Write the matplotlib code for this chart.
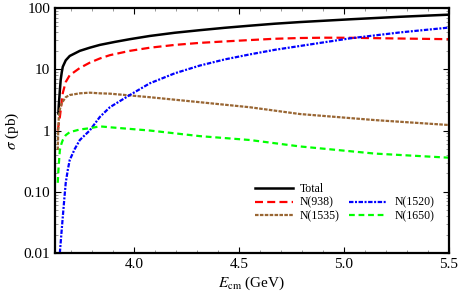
import matplotlib
matplotlib.use("Agg")
import matplotlib.pyplot as plt
from matplotlib.lines import Line2D
from matplotlib.ticker import FixedLocator, FixedFormatter, LogLocator, MultipleLocator

plt.rcParams["font.family"] = "Liberation Serif"
plt.rcParams["mathtext.fontset"] = "stix"

#
# Datos (E en GeV, sigma en pb)
#
e_total = [3.641, 3.643, 3.648, 3.652, 3.657, 3.662, 3.676, 3.695, 3.743, 3.790, 3.838,
           3.910, 3.981, 4.076, 4.195, 4.314, 4.433, 4.552, 4.671, 4.790, 5.029, 5.267, 5.500]
s_total = [1.9, 2.6, 4.5, 6.7, 8.9, 11.0, 14.0, 16.5, 20.0, 22.5, 25.0,
           28.0, 31.0, 35.0, 39.5, 43.5, 47.6, 51.5, 55.5, 59.0, 65.5, 72.0, 78.0]

e_n938 = [3.638, 3.643, 3.648, 3.655, 3.662, 3.676, 3.695, 3.743, 3.790, 3.838, 3.886,
          3.981, 4.076, 4.195, 4.314, 4.433, 4.552, 4.671, 4.790, 4.910, 5.029, 5.267, 5.500]
s_n938 = [1.0, 1.3, 1.66, 2.6, 4.1, 6.2, 8.0, 10.5, 12.8, 15.0, 17.0,
          20.0, 22.5, 25.0, 27.0, 28.5, 30.0, 31.5, 32.4, 32.8, 32.7, 31.8, 31.0]

e_n1520 = [3.648, 3.655, 3.662, 3.669, 3.676, 3.686, 3.695, 3.719, 3.743, 3.790, 3.838,
           3.886, 3.981, 4.076, 4.195, 4.314, 4.433, 4.552, 4.671, 4.790, 5.029, 5.267, 5.500]
s_n1520 = [0.010, 0.020, 0.039, 0.075, 0.14, 0.23, 0.33, 0.50, 0.70, 1.0, 1.66,
           2.4, 3.8, 5.9, 8.6, 11.5, 14.5, 17.5, 20.8, 24.0, 32.0, 40.0, 48.0]

e_n1535 = [3.638, 3.640, 3.643, 3.648, 3.657, 3.676, 3.695, 3.743, 3.790, 3.838, 3.886,
           4.076, 4.314, 4.552, 4.790, 5.148, 5.500]
s_n1535 = [0.48, 0.9, 1.66, 2.2, 2.8, 3.5, 3.8, 4.05, 4.15, 4.05, 4.0,
           3.5, 2.9, 2.4, 1.86, 1.48, 1.23]

e_n1650 = [3.638, 3.641, 3.645, 3.648, 3.655, 3.662, 3.676, 3.695, 3.743, 3.790, 3.838,
           3.886, 4.076, 4.314, 4.552, 4.790, 5.148, 5.500]
s_n1650 = [0.14, 0.22, 0.35, 0.48, 0.60, 0.70, 0.84, 0.94, 1.04, 1.09, 1.17,
           1.13, 1.0, 0.81, 0.70, 0.55, 0.42, 0.36]

y_ticks = [0.01, 0.1, 1, 10, 100]
y_labels = ["0.01", "0.10", "1", "10", "100"]

#
# Figura
#
fig = plt.figure(figsize=(4.6, 2.98), dpi=100)
ax = fig.add_axes([0.1196, 0.151, 0.8565, 0.822])

ax.plot(e_total, s_total, color="black", lw=1.8, label="Total")
ax.plot(e_n938, s_n938, color="#FF0000", lw=1.6, dashes=(3.6, 1.9), label="N(938)")
ax.plot(e_n1535, s_n1535, color="#996633", lw=1.6, dashes=(1.6, 0.6), label="N(1535)")
ax.plot(e_n1520, s_n1520, color="#0000FF", lw=1.6, dashes=(2.0, 0.7, 0.9, 0.7), label="N(1520)")
ax.plot(e_n1650, s_n1650, color="#00FF00", lw=1.6, dashes=(2.6, 1.7), label="N(1650)")

ax.set_yscale("log")
ax.set_xlim(3.625, 5.5)
ax.set_ylim(0.01, 100)

ax.yaxis.set_major_locator(FixedLocator(y_ticks))
ax.yaxis.set_major_formatter(FixedFormatter(y_labels))
ax.yaxis.set_minor_locator(LogLocator(base=10, subs=range(2, 10)))
ax.xaxis.set_major_locator(MultipleLocator(0.5))
ax.xaxis.set_minor_locator(MultipleLocator(0.1))
ax.xaxis.set_major_formatter(matplotlib.ticker.FormatStrFormatter("%.1f"))

ax.tick_params(which="both", direction="in", top=True, right=True, labelsize=11, colors="black")
ax.tick_params(which="major", length=4, width=0.8)
ax.tick_params(which="minor", length=2, width=0.6, color="#888888")
for sp in ax.spines.values():
    sp.set_linewidth(1.6)

ax.set_xlabel(r"$E_{\rm cm}$ (GeV)", fontsize=11, labelpad=3)
ax.set_ylabel(r"$\sigma$ (pb)", fontsize=11, labelpad=2)

#
# Leyenda: Total sola en la primera fila
#
h, l = ax.get_legend_handles_labels()
blank = Line2D([], [], color="none")
handles = [h[0], h[1], h[2], blank, h[3], h[4]]
labels = [l[0], l[1], l[2], "", l[3], l[4]]
ax.legend(handles, labels, ncol=2, loc="center", bbox_to_anchor=(0.735, 0.205),
          frameon=False, fontsize=8.5, handlelength=3.2, handletextpad=0.6,
          columnspacing=0.8, labelspacing=0.15)

fig.savefig("out.png", dpi=100)
